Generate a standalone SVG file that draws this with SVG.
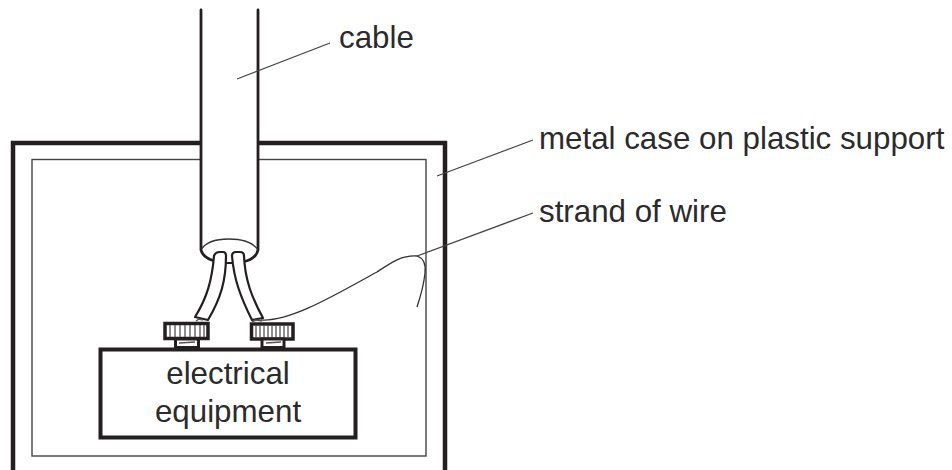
<svg xmlns="http://www.w3.org/2000/svg" width="952" height="470" viewBox="0 0 952 470">
<style>
.t{font-family:"Liberation Sans",Arial,sans-serif;font-size:31.300px;fill:#2b2a2c}
.b{fill:none;stroke:#231f20;stroke-width:4.5}
.m{fill:none;stroke:#231f20;stroke-width:2.8;stroke-linejoin:round;stroke-linecap:round}
.w{fill:#fff;stroke:#231f20;stroke-width:2.2;stroke-linejoin:round}
.l{fill:none;stroke:#444;stroke-width:1.3}
.g{stroke:#555;stroke-width:1.3}
</style>
<rect width="952" height="470" fill="#fff"/>
<g id="metal-case">
<path class="b" d="M13 470V143H445V470"/>
<rect x="32" y="159.500" width="394" height="296.500" fill="none" stroke="#444" stroke-width="1.400"/>
</g>
<g id="cable">
<path fill="#fff" d="M201 10H258V250Q256 258 240 262H218Q203 258 201 250Z"/>
<path class="m" d="M201 10V250Q203 259 219 262M258 10V250Q256 259 243 262"/>
<path d="M201 250Q207 239 229 239Q251 239 258 250" fill="none" stroke="#333" stroke-width="1.300"/>
</g>
<g id="wires">
<path class="w" d="M214 256Q215 252 220 252H223Q226 252 226 256C226 280 221 298 208 320L195 317C207 298 212 280 214 256Z"/>
<path class="w" d="M232 256Q232 252 236 252H240Q244 252 244 256C245 280 252 298 263 318L252 320C241 298 234 280 232 256Z"/>
<path d="M226 263L232 263" stroke="#231f20" stroke-width="2"/>
</g>
<g id="strand">
<path fill="none" stroke="#333" stroke-width="1.300" d="M261 320C290 322 335 295 377 272C392 262 402 255 417 256C423 258 426 264 425 273C424 283 422 292 417 307"/>
</g>
<g id="screw-left">
<rect x="165" y="323.500" width="43" height="15" fill="#fff" stroke="#231f20" stroke-width="3.500"/>
<path class="g" d="M170 325V337M175 325V337M180 325V337M185 325V337M190 325V337M195 325V337M200 325V337M204 325V337"/>
<rect x="175.500" y="339" width="23" height="8.500" fill="#fff" stroke="#231f20" stroke-width="3"/>
<path d="M179 343L195 342" stroke="#555" stroke-width="1.500"/>
<path d="M196 321L199 319L203 320" fill="none" stroke="#555" stroke-width="1.500"/>
</g>
<g id="screw-right">
<rect x="251.500" y="324" width="41.500" height="15" fill="#fff" stroke="#231f20" stroke-width="3.500"/>
<path class="g" d="M256 326V337M260 326V337M264 326V337M268 326V337M272 326V337M276 326V337M280 326V337M284 326V337M288 326V337"/>
<rect x="262" y="339" width="22" height="8.500" fill="#fff" stroke="#231f20" stroke-width="3"/>
<path d="M266 343L281 342" stroke="#555" stroke-width="1.500"/>
<path d="M252 322L256 320L262 321" fill="none" stroke="#555" stroke-width="1.500"/>
</g>
<g id="equipment">
<rect x="100.500" y="349.500" width="255" height="88" fill="#fff" stroke="#231f20" stroke-width="4"/>
<text class="t" x="228" y="384" text-anchor="middle">electrical</text>
<text class="t" x="228" y="422" text-anchor="middle">equipment</text>
</g>
<g id="connectors">
<path class="l" d="M237 79L330 43"/>
<path class="l" d="M437 176L533 140"/>
<path class="l" d="M417 256L533 213"/>
</g>
<g id="labels">
<text class="t" x="339" y="48">cable</text>
<text class="t" x="539" y="149">metal case on plastic support</text>
<text class="t" x="539" y="222">strand of wire</text>
</g>
</svg>
